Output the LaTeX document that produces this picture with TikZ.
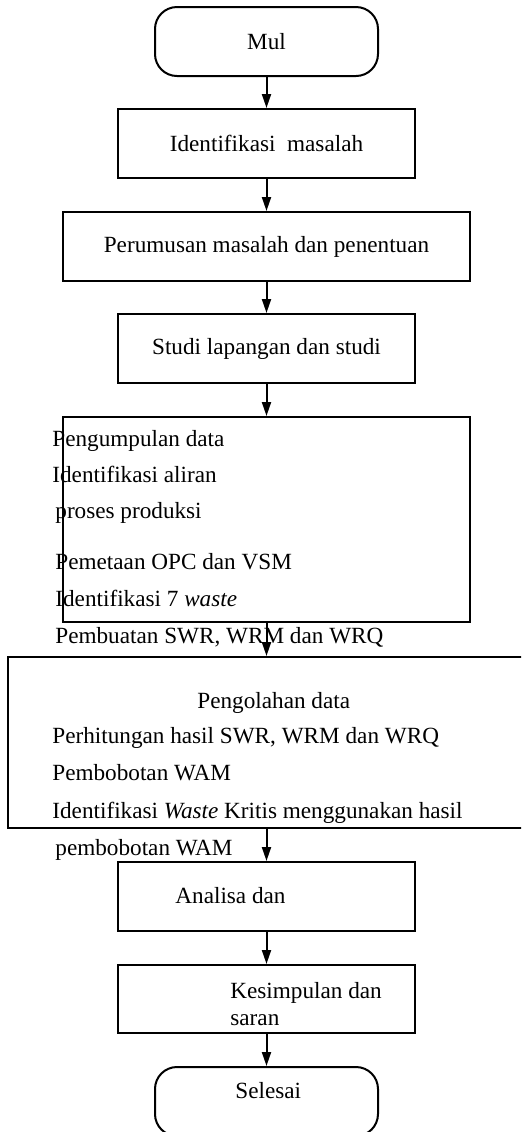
\documentclass[tikz,border=0pt]{standalone}
\usepackage{fontspec}
\setmainfont{Liberation Serif}
\usetikzlibrary{arrows.meta}
\tikzset{
	box/.style={draw, line width=1pt, inner sep=0, minimum height=34.5pt},
	term/.style={box, rounded corners=11pt, minimum width=111.5pt},
	txt/.style={anchor=base west, inner sep=0},
	arr/.style={line width=1pt, -{Triangle[length=7pt,width=4.5pt]}}
}
\begin{document}
\begin{tikzpicture}[x=.5pt, y=-.5pt, font=\fontsize{11.6}{14}\selectfont]
		\useasboundingbox (0,0) rectangle (521,1132);
		\clip (0,0) rectangle (521,1132);
		% boxes
		\node [term] (mul) at (266.5,41.5) {Mul};
		\node [box, minimum width=148.5pt] (idm) at (266.5,143.5) {Identifikasi~ masalah};
		\node [box, minimum width=203.5pt] (rum) at (266.5,246.5) {Perumusan masalah dan penentuan};
		\node [box, minimum width=148.5pt] (stu) at (266.5,348.5) {Studi lapangan dan studi};
		\node [box, minimum width=203.5pt, minimum height=102.5pt] (kump) at (266.5,519.5) {};
		\node [box, minimum width=258.5pt, minimum height=85.5pt] (olah) at (266.5,742.5) {};
		\node [box, minimum width=148.5pt] (anl) at (266.5,896.5) {};
		\node [box, minimum width=148.5pt, minimum height=34pt] (kes) at (266.5,999) {};
		\node [term] (sel) at (266.5,1101.5) {};
		% texts
		\node [txt] (k1) at (52,446) {Pengumpulan data};
		\node [txt] (k2) at (52,482) {Identifikasi aliran};
		\node [txt] (k3) at (55,518) {proses produksi};
		\node [txt] (k4) at (55,569) {Pemetaan OPC dan VSM};
		\node [txt] (k5) at (55,606) {Identifikasi 7 \textit{waste}};
		\node [txt] (k6) at (55,643) {Pembuatan SWR, WRM dan WRQ};
		\node [txt] (o1) at (197,708) {Pengolahan data};
		\node [txt] (o2) at (52,743) {Perhitungan hasil SWR, WRM dan WRQ};
		\node [txt] (o3) at (52,780) {Pembobotan WAM};
		\node [txt] (o4) at (52,818) {Identifikasi \textit{Waste} Kritis menggunakan hasil};
		\node [txt] (o5) at (55,855) {pembobotan WAM};
		\node [txt] (a1) at (175,903) {Analisa dan};
		\node [txt] (s1) at (230,998) {Kesimpulan dan};
		\node [txt] (s2) at (230,1025) {saran};
		\node [txt] (e1) at (235,1098) {Selesai};
		% arrows
		\foreach \a/\b in {mul/idm, idm/rum, rum/stu, stu/kump, kump/olah, olah/anl, anl/kes, kes/sel} {
			\draw [arr] (\a) -- (\b);
		}
	\end{tikzpicture}
\end{document}
